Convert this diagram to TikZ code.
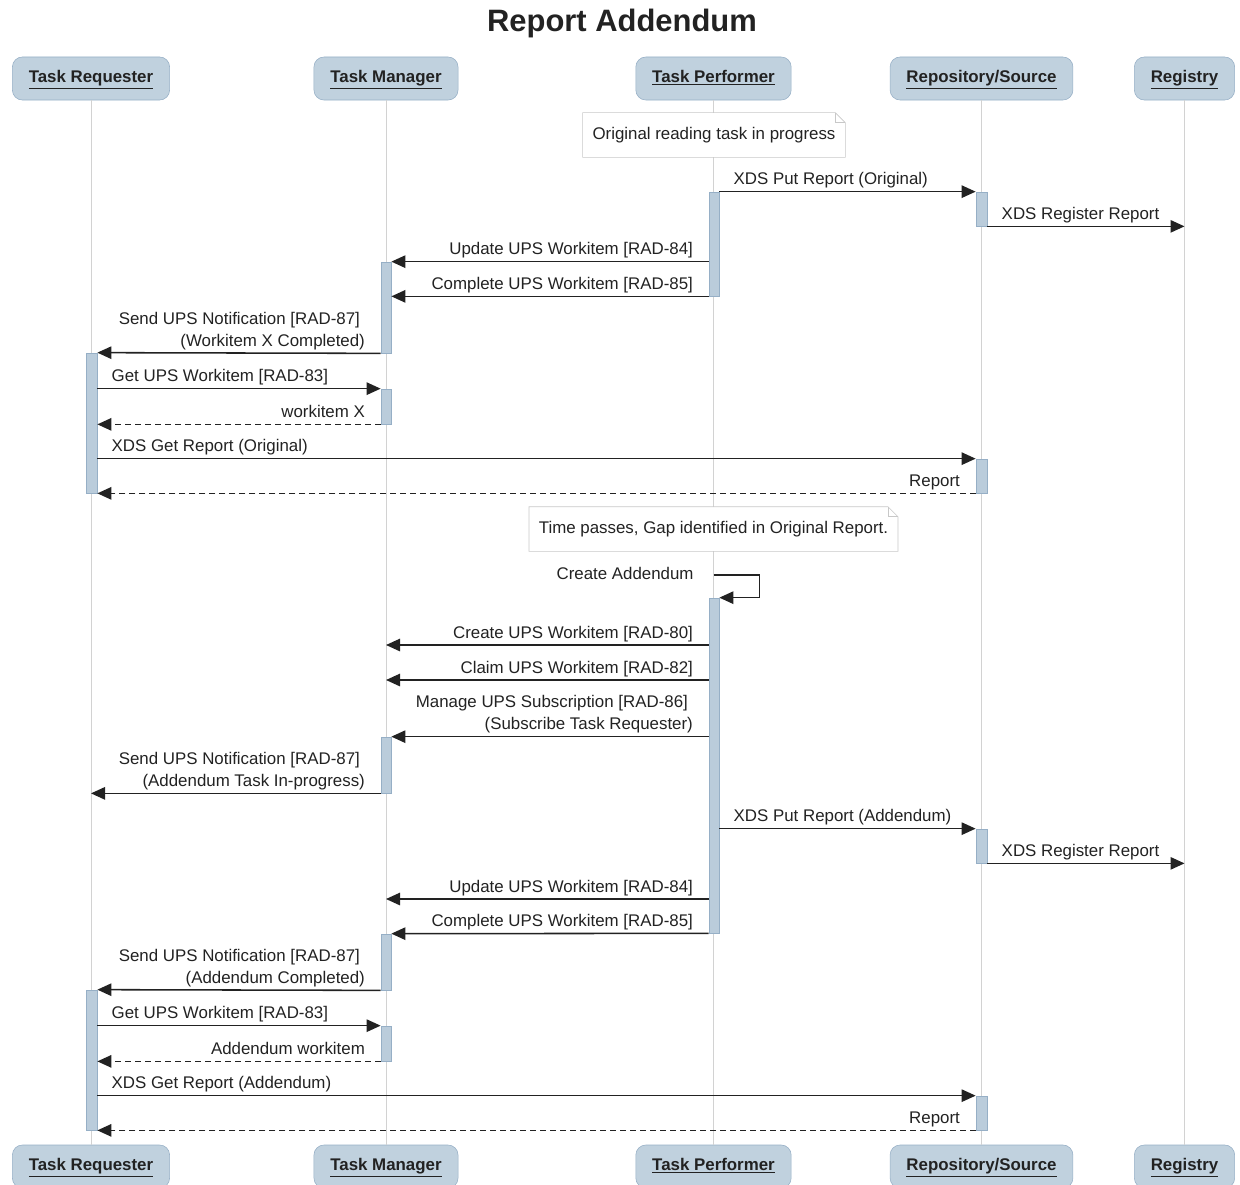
\documentclass[tikz,border=0pt]{standalone}
\usepackage{fontspec}
\setmainfont{Liberation Sans}
\usetikzlibrary{arrows.meta,fit}

\definecolor{hdrfill}{RGB}{192,209,222}
\definecolor{hdrline}{RGB}{150,175,198}
\definecolor{actfill}{RGB}{186,204,219}
\definecolor{lifegray}{RGB}{210,210,210}
\definecolor{notegray}{RGB}{200,200,200}
\definecolor{inkgray}{RGB}{34,34,34}

\begin{document}
\begin{tikzpicture}[x=0.025cm, y=-0.025cm, font=\fontsize{12}{15.6}\selectfont, text=inkgray]
    % Define styles
    \tikzstyle{actor} = [rectangle, draw=hdrline, fill=hdrfill, rounded corners=0.25cm, minimum height=1.075cm, inner xsep=0.41cm, text height=0.3cm, text depth=0.1cm, font=\fontsize{12}{14}\selectfont\bfseries]
    \tikzstyle{life} = [draw=lifegray, line width=0.7pt]
    \tikzstyle{act} = [rectangle, draw=hdrline, fill=actfill, inner sep=0pt, line width=0.5pt]
    \tikzstyle{note} = [rectangle, fill=white, minimum height=1.1cm, inner xsep=0.24cm]
    \tikzstyle{msg} = [draw=inkgray, line width=1.1pt, -{Triangle[length=0.35cm, width=0.31cm]}]
    \tikzstyle{reply} = [msg, dash pattern=on 0.15cm off 0.1cm]
    \tikzstyle{lblL} = [pos=0, anchor=south east, inner sep=0pt, text depth=0.1cm, align=right, xshift=-0.375cm, yshift=0.05cm]
    \tikzstyle{lblR} = [pos=0, anchor=south west, inner sep=0pt, text depth=0.1cm, align=left, xshift=0.34cm, yshift=0.05cm]

    \useasboundingbox (0,0) rectangle (1240,1184);

    % Title
    \node [font=\fontsize{22}{26}\selectfont\bfseries] (title) at (622,23) {Report Addendum};

    % Participants
    \node [actor] (tr) at (91,78.5) {\underline{Task Requester}};
    \node [actor] (tm) at (386,78.5) {\underline{Task Manager}};
    \node [actor] (tp) at (713.5,78.5) {\underline{Task Performer}};
    \node [actor] (rs) at (981.5,78.5) {\underline{Repository/Source}};
    \node [actor] (reg) at (1184.5,78.5) {\underline{Registry}};

    \node [actor] (trB) at (91,1166.5) {\underline{Task Requester}};
    \node [actor] (tmB) at (386,1166.5) {\underline{Task Manager}};
    \node [actor] (tpB) at (713.5,1166.5) {\underline{Task Performer}};
    \node [actor] (rsB) at (981.5,1166.5) {\underline{Repository/Source}};
    \node [actor] (regB) at (1184.5,1166.5) {\underline{Registry}};

    % Lifelines
    \draw [life] (tr) -- (trB);
    \draw [life] (tm) -- (tmB);
    \draw [life] (tp) -- (tpB);
    \draw [life] (rs) -- (rsB);
    \draw [life] (reg) -- (regB);

    % Notes
    \node [note] (n1) at (714,135) {Original reading task in progress};
    \draw [notegray] (n1.north west) -- ([xshift=-0.25cm]n1.north east) -- ([yshift=-0.25cm]n1.north east) -- (n1.south east) -- (n1.south west) -- cycle;
    \draw [notegray] ([xshift=-0.25cm]n1.north east) |- ([yshift=-0.25cm]n1.north east);
    \node [note] (n2) at (713.5,529) {Time passes, Gap identified in Original Report.};
    \draw [notegray] (n2.north west) -- ([xshift=-0.25cm]n2.north east) -- ([yshift=-0.25cm]n2.north east) -- (n2.south east) -- (n2.south west) -- cycle;
    \draw [notegray] ([xshift=-0.25cm]n2.north east) |- ([yshift=-0.25cm]n2.north east);

    % Activations
    \node [act, fit={(709,192) (719,296)}] (tp1) {};
    \node [act, fit={(976,192) (987,226)}] (rs1) {};
    \node [act, fit={(381,262) (391,353)}] (tm1) {};
    \node [act, fit={(86,353) (97,493)}] (tr1) {};
    \node [act, fit={(381,389) (391,424)}] (tm2) {};
    \node [act, fit={(976,459) (987,493)}] (rs2) {};
    \node [act, fit={(709,598) (719,933)}] (tp2) {};
    \node [act, fit={(381,737) (391,793)}] (tm3) {};
    \node [act, fit={(976,829) (987,863)}] (rs3) {};
    \node [act, fit={(381,934) (391,990)}] (tm4) {};
    \node [act, fit={(86,990) (97,1130)}] (tr2) {};
    \node [act, fit={(381,1026) (391,1061)}] (tm5) {};
    \node [act, fit={(976,1096) (987,1130)}] (rs4) {};

    % Original report
    \draw [msg] (tp1.north east) -- node [lblR] (m1) {XDS Put Report (Original)} (rs1.north west);
    \draw [msg] (rs1.south east) -- node [lblR] (m2) {XDS Register Report} (rs1.south east -| reg);
    \draw [msg] (tp1.west |- tm1.north) -- node [lblL] (m3) {Update UPS Workitem [RAD-84]} (tm1.north east);
    \draw [msg] (tp1.south west) -- node [lblL] (m4) {Complete UPS Workitem [RAD-85]} (tp1.south west -| tm1.east);
    \draw [msg] (tm1.south west) -- node [lblL] (m5) {Send UPS Notification [RAD-87]\hspace*{0.125cm}\\(Workitem X Completed)} (tr1.north east);
    \draw [msg] (tr1.east |- tm2.north) -- node [lblR] (m6) {Get UPS Workitem [RAD-83]} (tm2.north west);
    \draw [reply] (tm2.south west) -- node [lblL] (m7) {workitem X} (tm2.south west -| tr1.east);
    \draw [msg] (tr1.east |- rs2.north) -- node [lblR] (m8) {XDS Get Report (Original)} (rs2.north west);
    \draw [reply] (rs2.south west) -- node [lblL] (m9) {Report} (tr1.south east);

    % Addendum
    \coordinate (self) at (tp |- 0,575);
    \draw [msg] (self) -- ++(46,0) |- (tp2.north east);
    \node [anchor=base east, xshift=-0.375cm, yshift=-0.1cm] (m10) at (self) {Create Addendum};
    \draw [msg] (tp2.west |- 0,645) -- node [lblL] (m11) {Create UPS Workitem [RAD-80]} (tm |- 0,645);
    \draw [msg] (tp2.west |- 0,680) -- node [lblL] (m12) {Claim UPS Workitem [RAD-82]} (tm |- 0,680);
    \draw [msg] (tp2.west |- tm3.north) -- node [lblL] (m13) {Manage UPS Subscription [RAD-86]\hspace*{0.125cm}\\(Subscribe Task Requester)} (tm3.north east);
    \draw [msg] (tm3.south west) -- node [lblL] (m14) {Send UPS Notification [RAD-87]\hspace*{0.125cm}\\(Addendum Task In-progress)} (tm3.south west -| tr);
    \draw [msg] (tp2.east |- rs3.north) -- node [lblR] (m15) {XDS Put Report (Addendum)} (rs3.north west);
    \draw [msg] (rs3.south east) -- node [lblR] (m16) {XDS Register Report} (rs3.south east -| reg);
    \draw [msg] (tp2.west |- 0,899) -- node [lblL] (m17) {Update UPS Workitem [RAD-84]} (tm |- 0,899);
    \draw [msg] (tp2.south west) -- node [lblL] (m18) {Complete UPS Workitem [RAD-85]} (tm4.north east);
    \draw [msg] (tm4.south west) -- node [lblL] (m19) {Send UPS Notification [RAD-87]\hspace*{0.125cm}\\(Addendum Completed)} (tr2.north east);
    \draw [msg] (tr2.east |- tm5.north) -- node [lblR] (m20) {Get UPS Workitem [RAD-83]} (tm5.north west);
    \draw [reply] (tm5.south west) -- node [lblL] (m21) {Addendum workitem} (tm5.south west -| tr2.east);
    \draw [msg] (tr2.east |- rs4.north) -- node [lblR] (m22) {XDS Get Report (Addendum)} (rs4.north west);
    \draw [reply] (rs4.south west) -- node [lblL] (m23) {Report} (tr2.south east);
\end{tikzpicture}
\end{document}
